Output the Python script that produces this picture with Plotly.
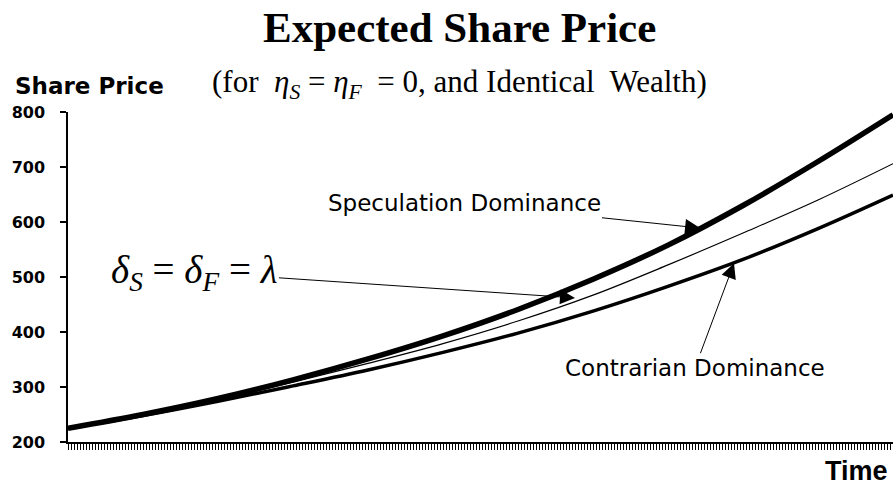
import plotly.graph_objects as go

# time steps (read every 25 ticks) and expected share price for the three cases
time = [0, 25, 50, 75, 100, 125, 150, 175, 200, 225, 250, 275]
speculation = [225, 250, 279, 313, 351, 393, 441, 496, 558, 630, 710, 795]
neutral = [225, 249, 277, 309, 343, 379, 420, 467, 522, 580, 640, 706]
contrarian = [225, 248, 274, 302, 331, 363, 398, 438, 483, 532, 588, 649]

y_ticks = [200, 300, 400, 500, 600, 700, 800]

fig = go.Figure()

fig.add_trace(go.Scatter(x=time, y=speculation, mode='lines', line=dict(color='black', width=5.5, shape='spline')))
fig.add_trace(go.Scatter(x=time, y=neutral, mode='lines', line=dict(color='black', width=1.2, shape='spline')))
fig.add_trace(go.Scatter(x=time, y=contrarian, mode='lines', line=dict(color='black', width=3.5, shape='spline')))

sans = 'DejaVu Sans'

fig.update_layout(
    width=893, height=489,
    margin=dict(l=68, r=0, t=112, b=47),
    paper_bgcolor='white', plot_bgcolor='white',
    showlegend=False,
    xaxis=dict(range=[0, 275], tickmode='linear', tick0=0, dtick=1, ticks='outside', ticklen=6,
               tickcolor='black', tickwidth=1, showticklabels=False, showgrid=False, zeroline=False,
               showline=True, linecolor='black', linewidth=1.5),
    yaxis=dict(range=[200, 800], tickvals=y_ticks, ticks='outside', ticklen=6, tickcolor='black',
               tickwidth=1.5, showgrid=False, zeroline=False, showline=True, linecolor='black',
               linewidth=1.5, ticklabelstandoff=12,
               tickfont=dict(family=sans, size=16, color='black', weight='bold')),
)

fig.add_annotation(text='<b>Expected Share Price</b>', xref='paper', yref='paper', x=0.475, y=1.255,
                   showarrow=False, font=dict(family='Liberation Serif', size=43, color='black'),
                   xanchor='center', yanchor='middle')
fig.add_annotation(text='(for&nbsp; <i>η<sub>S</sub></i> = <i>η<sub>F</sub></i>&nbsp; = 0, and Identical&nbsp; Wealth)',
                   xref='paper', yref='paper', x=0.475, y=1.085, showarrow=False,
                   font=dict(family='Liberation Serif', size=31, color='black'),
                   xanchor='center', yanchor='middle')
fig.add_annotation(text='<b>Share Price</b>', xref='paper', yref='paper', x=-0.067, y=1.079,
                   showarrow=False, font=dict(family=sans, size=23, color='black'),
                   xanchor='left', yanchor='middle')
fig.add_annotation(text='<b>Time</b>', xref='paper', yref='paper', x=0.9964, y=-0.088,
                   showarrow=False, font=dict(family='Liberation Sans', size=27, color='black'),
                   xanchor='right', yanchor='middle')

label_font = dict(family=sans, size=23, color='black')
fig.add_annotation(text='Speculation Dominance', x=210.7, y=589, ax=132, ay=634, axref='x', ayref='y',
                   showarrow=True, arrowhead=2, arrowsize=3, arrowwidth=1, arrowcolor='black',
                   font=label_font)
fig.add_annotation(text='Contrarian Dominance', x=222, y=525, ax=209, ay=335, axref='x', ayref='y',
                   showarrow=True, arrowhead=2, arrowsize=3, arrowwidth=1, arrowcolor='black',
                   font=label_font)
fig.add_annotation(text='<i>δ<sub>S</sub></i> = <i>δ<sub>F</sub></i> = <i>λ</i>', x=169, y=462, ax=42, ay=509,
                   axref='x', ayref='y', showarrow=True, arrowhead=2, arrowsize=3, arrowwidth=1,
                   arrowcolor='black', font=dict(family='Liberation Serif', size=39, color='black'))

# drop the default 8px page margin so the figure fills the window exactly
fig.write_html('out.html', config={'displayModeBar': False},
               post_script="document.body.style.margin='0';document.body.style.overflow='hidden';")
